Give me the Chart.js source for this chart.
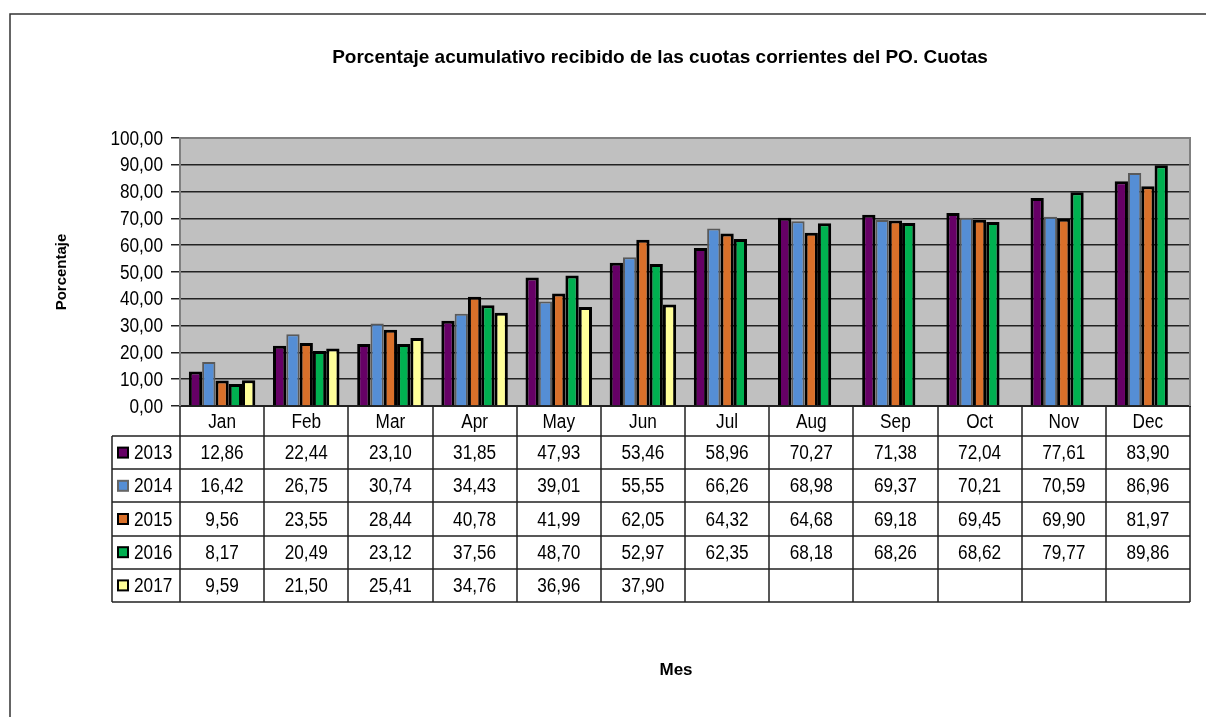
<!DOCTYPE html>
<html>
<head>
<meta charset="utf-8">
<script src="https://cdn.jsdelivr.net/npm/chart.js@4.4.0/dist/chart.umd.min.js"></script>
<style>
  body { margin: 0; background: #fff; }
  canvas { display: block; }
</style>
</head>
<body>
<canvas id="cuotasChart" width="1206" height="717"></canvas>
<script>
const months = ['Jan', 'Feb', 'Mar', 'Apr', 'May', 'Jun', 'Jul', 'Aug', 'Sep', 'Oct', 'Nov', 'Dec'];
const years = ['2013', '2014', '2015', '2016', '2017'];
const v2013 = [12.86, 22.44, 23.10, 31.85, 47.93, 53.46, 58.96, 70.27, 71.38, 72.04, 77.61, 83.90];
const v2014 = [16.42, 26.75, 30.74, 34.43, 39.01, 55.55, 66.26, 68.98, 69.37, 70.21, 70.59, 86.96];
const v2015 = [9.56, 23.55, 28.44, 40.78, 41.99, 62.05, 64.32, 64.68, 69.18, 69.45, 69.90, 81.97];
const v2016 = [8.17, 20.49, 23.12, 37.56, 48.70, 52.97, 62.35, 68.18, 68.26, 68.62, 79.77, 89.86];
const v2017 = [9.59, 21.50, 25.41, 34.76, 36.96, 37.90, null, null, null, null, null, null];
const yTicks = [0, 10, 20, 30, 40, 50, 60, 70, 80, 90, 100];

const seriesValues = [v2013, v2014, v2015, v2016, v2017];
const fills = ['#660066', '#558ED5', '#D9702A', '#00B050', '#FFFF99'];
const edges = ['#000000', '#5a5a5a', '#000000', '#000000', '#000000'];

const FONT = "'Liberation Sans', Arial, sans-serif";
const fmt = v => v.toFixed(2).replace('.', ',');

const TABLE_LEFT = 112;
const ROW_H = 33.2;

// the original uses a narrow face, so squeeze the regular one a bit
function narrowText(ctx, str, x, y, align) {
    ctx.save();
    ctx.translate(x, y);
    ctx.scale(0.86, 1);
    ctx.textAlign = align;
    ctx.fillText(str, 0, 0);
    ctx.restore();
}

// grey plot area, borders, tick labels, data table and titles
const excelLook = {
    id: 'excelLook',
    beforeDraw(chart) {
        const { ctx, chartArea: a } = chart;
        ctx.save();
        ctx.fillStyle = '#C0C0C0';
        ctx.fillRect(a.left, a.top, a.right - a.left, a.bottom - a.top);
        ctx.restore();
    },
    afterDraw(chart) {
        const { ctx, chartArea: a } = chart;
        const x = chart.scales.x;
        const y = chart.scales.y;
        const step = x.width / months.length;
        ctx.save();

        // plot frame (top/right)
        ctx.strokeStyle = '#808080';
        ctx.lineWidth = 2;
        ctx.beginPath();
        ctx.moveTo(a.left, a.top);
        ctx.lineTo(a.right, a.top);
        ctx.lineTo(a.right, a.bottom);
        ctx.stroke();

        // table grid
        const headTop = a.bottom;
        const rowsTop = x.bottom;
        const tableBottom = rowsTop + ROW_H * years.length;
        ctx.strokeStyle = '#222';
        ctx.lineWidth = 1.5;
        ctx.beginPath();
        for (let i = 0; i <= months.length; i++) {
            const px = Math.round(a.left + i * step);
            ctx.moveTo(px, headTop);
            ctx.lineTo(px, tableBottom);
        }
        ctx.moveTo(TABLE_LEFT, rowsTop);
        ctx.lineTo(TABLE_LEFT, tableBottom);
        for (let r = 0; r <= years.length; r++) {
            const py = Math.round(rowsTop + r * ROW_H);
            ctx.moveTo(TABLE_LEFT, py);
            ctx.lineTo(a.right, py);
        }
        ctx.stroke();

        ctx.font = '20px ' + FONT;
        ctx.textBaseline = 'middle';
        ctx.fillStyle = '#000';

        // y tick labels
        yTicks.forEach(v => narrowText(ctx, fmt(v), 163, y.getPixelForValue(v) + 1, 'right'));
        // month labels (table header)
        months.forEach((m, i) => narrowText(ctx, m, x.getPixelForValue(i), (headTop + rowsTop) / 2 + 1, 'center'));

        // rows
        years.forEach((yr, r) => {
            const cy = rowsTop + r * ROW_H + ROW_H / 2;
            ctx.fillStyle = fills[r];
            ctx.fillRect(118, cy - 5, 10, 10);
            ctx.strokeStyle = r === 1 ? '#666' : '#000';
            ctx.lineWidth = 2;
            ctx.strokeRect(118, cy - 5, 10, 10);
            ctx.fillStyle = '#000';
            narrowText(ctx, yr, 134, cy + 1, 'left');
            seriesValues[r].forEach((v, i) => {
                if (v === null) return;
                narrowText(ctx, fmt(v), x.getPixelForValue(i), cy + 1, 'center');
            });
        });

        // titles
        ctx.fillStyle = '#000';
        ctx.textAlign = 'center';
        ctx.font = 'bold 19px ' + FONT;
        ctx.fillText('Porcentaje acumulativo recibido de las cuotas corrientes del PO. Cuotas', 660, 58);
        ctx.font = 'bold 17px ' + FONT;
        ctx.fillText('Mes', 676, 670);
        ctx.font = 'bold 15px ' + FONT;
        ctx.save();
        ctx.translate(62, 272);
        ctx.rotate(-Math.PI / 2);
        ctx.fillText('Porcentaje', 0, 0);
        ctx.restore();

        // outer frame
        ctx.strokeStyle = '#333';
        ctx.lineWidth = 1.5;
        ctx.beginPath();
        ctx.moveTo(10, 717);
        ctx.lineTo(10, 14);
        ctx.lineTo(1206, 14);
        ctx.stroke();
        ctx.restore();
    }
};

const ctx = document.getElementById('cuotasChart').getContext('2d');
new Chart(ctx, {
    type: 'bar',
    data: {
        labels: months,
        datasets: years.map((yr, i) => ({
            label: yr,
            data: seriesValues[i],
            backgroundColor: fills[i],
            borderColor: edges[i],
            borderWidth: i === 1 ? 2 : 3,
            categoryPercentage: 0.79,
            barPercentage: 1
        }))
    },
    options: {
        responsive: false,
        animation: false,
        devicePixelRatio: 1,
        layout: {
            padding: { left: 100, top: 138, right: 16, bottom: 717 - 436 }
        },
        plugins: {
            legend: { display: false },
            title: { display: false },
            tooltip: { enabled: false }
        },
        scales: {
            x: {
                grid: { display: false, drawTicks: false },
                border: { color: '#222', width: 2 },
                ticks: { display: false },
                afterFit(s) { s.height = 30; }
            },
            y: {
                min: 0,
                max: 100,
                afterBuildTicks(s) { s.ticks = yTicks.map(v => ({ value: v })); },
                grid: { color: '#222', lineWidth: 1.5, tickLength: 9 },
                border: { color: '#808080', width: 2 },
                ticks: { display: false },
                afterFit(s) { s.width = 80; }
            }
        }
    },
    plugins: [excelLook]
});
</script>
</body>
</html>
